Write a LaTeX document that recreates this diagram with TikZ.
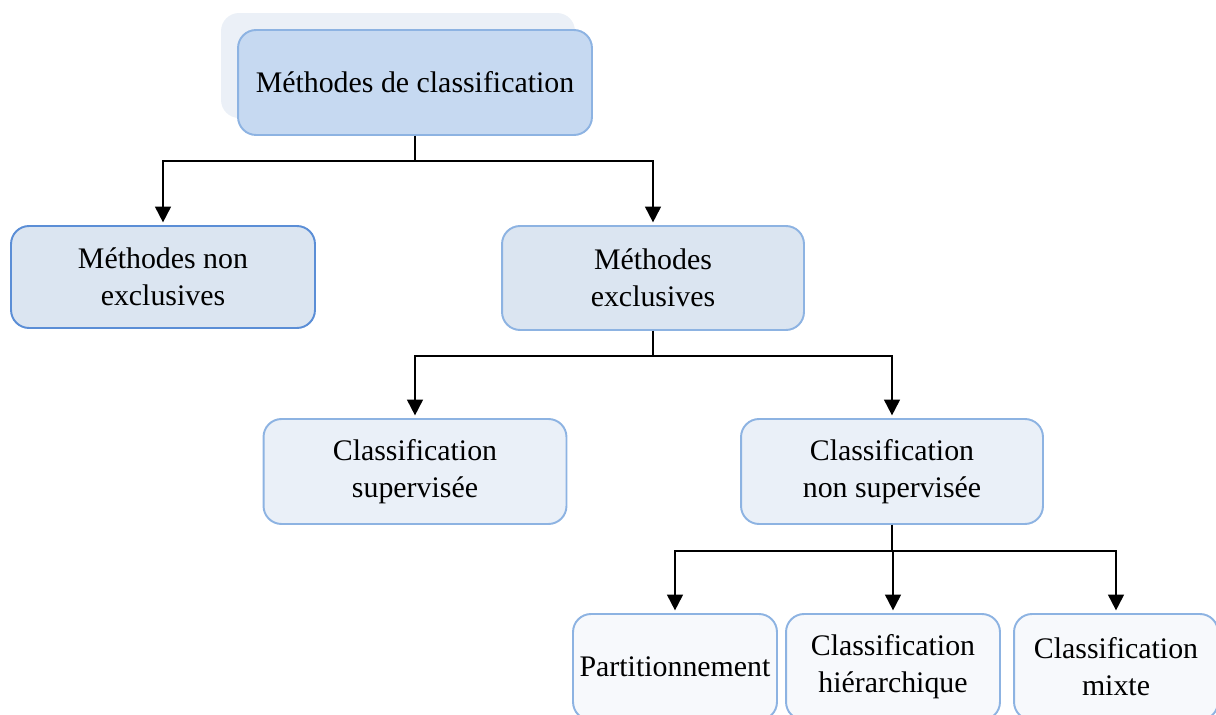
\documentclass[tikz,border=0pt]{standalone}
\usepackage{fontspec}
\setmainfont{Liberation Serif}[Ligatures=NoCommon]
\usepackage{tikz}
\usepackage{xcolor}
\usetikzlibrary{positioning}
\usetikzlibrary{arrows.meta,calc,shadows,shapes.misc}
\definecolor{bordA}{HTML}{8DB3E2}
\definecolor{bordB}{HTML}{5B8ED6}
\definecolor{fillA}{HTML}{C6D9F1}
\definecolor{fillB}{HTML}{DBE5F1}
\definecolor{fillC}{HTML}{EAF0F8}
\definecolor{fillD}{HTML}{F7F9FC}
\definecolor{ombre}{HTML}{EBF0F7}

\begin{document}
\begin{tikzpicture}[x=0.02cm, y=-0.02cm, >={Triangle[length=9pt,width=9pt]},
  boite/.style={rounded corners=0.36cm, draw=bordA, line width=1.1pt, align=center,
    inner sep=0pt, font=\fontsize{17}{21}\selectfont},
  fleche/.style={->, line width=1.1pt, shorten >=1.5pt}]
\useasboundingbox (0,0) rectangle (1216,715);
\node[boite, fill=fillA, minimum width=7.08cm, minimum height=2.1cm,
  general shadow={shadow xshift=-0.34cm, shadow yshift=0.34cm, fill=ombre}] (meth) at (415,82.5) {M\'ethodes de classification};
\node[boite, fill=fillB, draw=bordB, minimum width=6.08cm, minimum height=2.04cm] (nonexcl) at (163,277) {M\'ethodes non\\exclusives};
\node[boite, fill=fillB, minimum width=6.04cm, minimum height=2.08cm] (excl) at (653,278) {M\'ethodes\\exclusives};
\node[boite, fill=fillC, minimum width=6.06cm, minimum height=2.1cm] (sup) at (415,471.5) {Classification\\supervis\'ee};
\node[boite, fill=fillC, minimum width=6.04cm, minimum height=2.1cm] (nonsup) at (892,471.5) {Classification\\non supervis\'ee};
\node[boite, fill=fillD, minimum width=4.08cm, minimum height=2.12cm] (part) at (675,667) {Partitionnement};
\node[boite, fill=fillD, minimum width=4.28cm, minimum height=2.12cm] (hier) at (893,667) {Classification\\hi\'erarchique};
\node[boite, fill=fillD, minimum width=4.08cm, minimum height=2.12cm] (mixte) at (1116,667) {Classification\\mixte};
\draw[fleche] (meth.south) -- ++(0,25) -| (nonexcl.north);
\draw[fleche] (meth.south) -- ++(0,25) -| (excl.north);
\draw[fleche] (excl.south) -- ++(0,25) -| (sup.north);
\draw[fleche] (excl.south) -- ++(0,25) -| (nonsup.north);
\draw[fleche] (nonsup.south) -- ++(0,26) -| (part.north);
\draw[fleche] (nonsup.south) -- ++(0,26) -| (hier.north);
\draw[fleche] (nonsup.south) -- ++(0,26) -| (mixte.north);
\end{tikzpicture}
\end{document}
